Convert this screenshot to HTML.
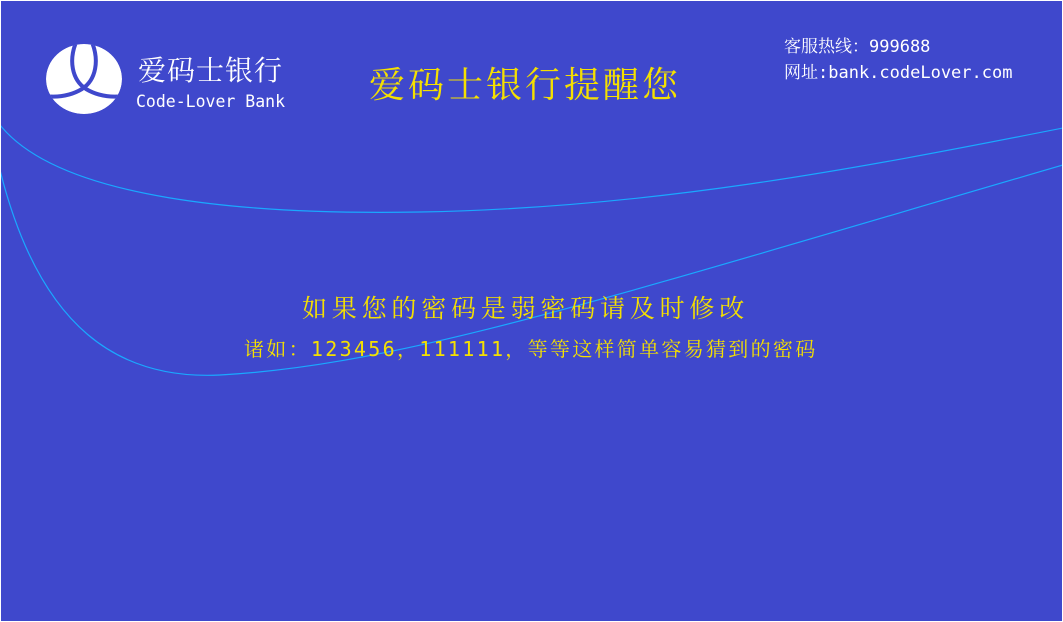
<!DOCTYPE html>
<html><head><meta charset="utf-8"><style>
body{margin:0;width:1063px;height:622px;overflow:hidden;background:#fff}
#card{position:absolute;left:1px;top:1px;width:1061px;height:620px;background:#3f48cc;overflow:hidden}
.t{position:absolute;white-space:nowrap;font-family:"DejaVu Sans Mono","Noto Serif CJK SC",monospace}
.y{color:#f5e000}
.w{color:#fff}
</style></head><body>
<div id="card">
<svg width="1063" height="622" style="position:absolute;left:-1px;top:-1px">
<path d="M0,125 C60,200 250,215 420,212 C650,208 850,170 1063,128" fill="none" stroke="#1aa8ff" stroke-width="1.2"/>
<path d="M0,170 C40,330 120,380 220,375 C400,365 600,300 1063,165" fill="none" stroke="#1aa8ff" stroke-width="1.2"/>
<defs><clipPath id="lc"><ellipse cx="84" cy="79" rx="38" ry="35"/></clipPath></defs>
<g clip-path="url(#lc)">
<ellipse cx="84" cy="79" rx="38" ry="35" fill="#fff"/>
<path d="M77,40 C68,60 72,80 86,89 C96,95 108,98 124,96" fill="none" stroke="#3f48cc" stroke-width="4"/>
<path d="M91,40 C100,60 96,80 82,89 C72,95 60,98 44,96" fill="none" stroke="#3f48cc" stroke-width="4"/>
</g>
</svg>
<div class="t w" style="left:137px;top:48px;font-size:28px;letter-spacing:1px">爱码士银行</div>
<div class="t w" style="left:135px;top:91px;font-size:16.5px">Code-Lover Bank</div>
<div class="t y" style="left:368px;top:56px;font-size:36px;letter-spacing:3px">爱码士银行提醒您</div>
<div class="t w" style="left:783px;top:31px;font-size:17px">客服热线：999688</div>
<div class="t w" style="left:783px;top:57px;font-size:17px">网址:bank.codeLover.com</div>
<div class="t y" style="left:301px;top:288px;font-size:25px;letter-spacing:4.8px">如果您的密码是弱密码请及时修改</div>
<div class="t y" style="left:243px;top:332px;font-size:20px;letter-spacing:2.3px">诸如：123456，111111，等等这样简单容易猜到的密码</div>
</div>
</body></html>
